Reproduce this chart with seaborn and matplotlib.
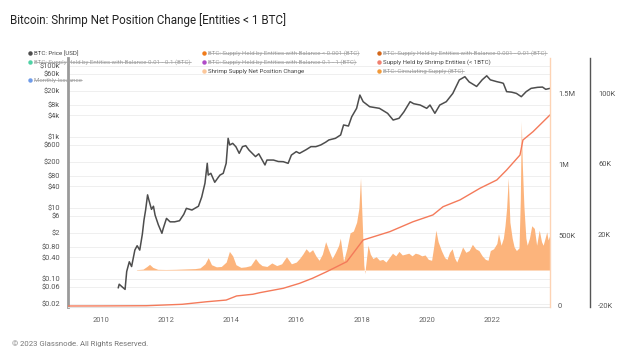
import matplotlib
matplotlib.use("Agg")
import matplotlib.pyplot as plt
from matplotlib.lines import Line2D
import seaborn as sns

# BTC price (decimal year, USD)
price_years = [2010.54, 2010.57, 2010.65, 2010.75, 2010.80, 2010.88, 2010.95, 2011.05, 2011.12, 2011.20,
               2011.28, 2011.33, 2011.38, 2011.44, 2011.48, 2011.56, 2011.62, 2011.67, 2011.77, 2011.88,
               2011.92, 2012.02, 2012.13, 2012.27, 2012.42, 2012.55, 2012.63, 2012.80, 2013.00, 2013.10,
               2013.20, 2013.27, 2013.30, 2013.38, 2013.50, 2013.60, 2013.66, 2013.76, 2013.85, 2013.91,
               2013.96, 2014.05, 2014.15, 2014.25, 2014.35, 2014.45, 2014.55, 2014.65, 2014.75, 2014.85,
               2015.04, 2015.10, 2015.30, 2015.45, 2015.60, 2015.75, 2015.85, 2016.00, 2016.10, 2016.30,
               2016.45, 2016.60, 2016.75, 2016.90, 2017.00, 2017.20, 2017.36, 2017.45, 2017.60, 2017.70,
               2017.85, 2017.95, 2018.05, 2018.25, 2018.55, 2018.80, 2018.97, 2019.15, 2019.30, 2019.49,
               2019.60, 2019.80, 2020.00, 2020.10, 2020.25, 2020.40, 2020.60, 2020.80, 2021.00, 2021.17,
               2021.30, 2021.53, 2021.70, 2021.84, 2021.95, 2022.15, 2022.30, 2022.35, 2022.45, 2022.60,
               2022.75, 2022.90, 2023.05, 2023.20, 2023.40, 2023.55, 2023.65, 2023.78]
price_usd = [0.055, 0.07, 0.06, 0.05, 0.16, 0.30, 0.22, 0.64, 0.85, 0.64,
             1.8, 4.5, 8.6, 23, 16.5, 9, 11, 6.2, 3.3, 1.9,
             2.6, 5.0, 4.0, 4.0, 4.3, 6.5, 9.6, 8.6, 11, 20,
             49, 178, 83, 93, 52, 70, 83, 93, 178, 900,
             585, 650, 520, 340, 525, 560, 420, 340, 275, 330,
             160, 220, 220, 200, 198, 178, 304, 380, 340, 430,
             525, 525, 585, 700, 810, 900, 1120, 2140, 2000, 3650,
             6300, 14900, 9700, 7000, 6300, 4560, 2950, 3300, 5000, 9700,
             8500, 7800, 6300, 7800, 4560, 7800, 9700, 16600, 39800, 49000,
             35000, 26000, 40000, 52000, 40000, 35500, 33000, 31800, 18600, 18000,
             16600, 13400, 18600, 23000, 24600, 25000, 21600, 23000]

# Supply held by shrimp entities (< 1 BTC)
shrimp_years = [2009.0, 2010.0, 2011.4, 2012.5, 2013.25, 2013.85, 2014.17, 2014.67, 2014.88, 2015.6,
                2016.1, 2016.5, 2016.93, 2017.55, 2018.05, 2018.87, 2019.58, 2020.19, 2020.5, 2021.02,
                2021.63, 2022.15, 2022.45, 2022.86, 2022.95, 2023.26, 2023.78]
shrimp_supply = [0, 500, 2000, 12000, 30000, 42000, 71000, 83000, 94000, 125000,
                 160000, 196000, 242000, 313000, 466000, 525000, 595000, 643000, 701000, 749000,
                 831000, 890000, 960000, 1066000, 1172000, 1231000, 1349000]

# Shrimp supply net position change (BTC)
net_years = [2011.10, 2011.30, 2011.42, 2011.50, 2011.60, 2011.75, 2012.00, 2012.30, 2012.60, 2012.90,
             2013.05, 2013.20, 2013.30, 2013.40, 2013.55, 2013.70, 2013.85, 2013.95, 2014.05, 2014.15,
             2014.30, 2014.45, 2014.60, 2014.75, 2014.85, 2014.95, 2015.10, 2015.25, 2015.40, 2015.55,
             2015.70, 2015.85, 2016.00, 2016.10, 2016.20, 2016.30, 2016.40, 2016.50, 2016.60, 2016.70,
             2016.80, 2016.90, 2017.00, 2017.10, 2017.20, 2017.30, 2017.35, 2017.45, 2017.55, 2017.65,
             2017.75, 2017.85, 2017.92, 2017.97, 2018.02, 2018.07, 2018.10, 2018.15, 2018.20, 2018.27,
             2018.35, 2018.45, 2018.55, 2018.65, 2018.75, 2018.85, 2018.95, 2019.05, 2019.15, 2019.25,
             2019.35, 2019.45, 2019.55, 2019.65, 2019.75, 2019.85, 2019.95, 2020.05, 2020.15, 2020.22,
             2020.28, 2020.35, 2020.45, 2020.55, 2020.62, 2020.70, 2020.78, 2020.85, 2020.92, 2021.00,
             2021.10, 2021.20, 2021.30, 2021.40, 2021.50, 2021.60, 2021.70, 2021.80, 2021.88, 2021.95,
             2022.05, 2022.15, 2022.20, 2022.28, 2022.35, 2022.40, 2022.45, 2022.50, 2022.55, 2022.62,
             2022.68, 2022.75, 2022.83, 2022.87, 2022.90, 2022.93, 2022.98, 2023.04, 2023.08, 2023.15,
             2023.22, 2023.30, 2023.37, 2023.45, 2023.52, 2023.57, 2023.63, 2023.68, 2023.72, 2023.78]
net_change = [200, 500, 2000, 3200, 1500, 400, 300, 400, 600, 800,
              1200, 3500, 7000, 3000, 1800, 2000, 4500, 10500, 8000, 3000,
              1500, 1800, 2500, 6500, 4000, 2500, 2000, 4000, 2500, 3500,
              7500, 3500, 4500, 6500, 9000, 12000, 10000, 11500, 8000, 5500,
              9000, 16000, 11000, 6500, 10000, 14000, 18000, 5000, 12000, 21000,
              22000, 27000, 35000, 52000, 28000, 3000, -2000, 6000, 14000, 9000,
              6500, 7500, 5500, 6000, 4500, 7000, 9500, 8000, 10500, 8500,
              9000, 9500, 8000, 9500, 9000, 8000, 8500, 6000, 5500, 14000,
              22500, 16000, 11000, 7000, 6000, 10000, 12000, 7000, 4500, 8000,
              13000, 10000, 11000, 14500, 12000, 11000, 8000, 6000, 5500, 11000,
              12000, 15000, 20500, 14000, 18000, 25000, 35000, 52000, 27000, 18000,
              13000, 11000, 12500, 40000, 84000, 60000, 36000, 18000, 14000, 18000,
              25000, 23500, 14000, 22500, 16000, 14000, 18000, 21500, 17000, 20000]

price_ticks = [0.02, 0.06, 0.1, 0.4, 0.8, 2, 6, 10, 40, 80, 200, 600, 1000, 4000, 8000, 20000, 60000, 100000]
price_labels = ["$0.02", "$0.06", "$0.10", "$0.40", "$0.80", "$2", "$6", "$10", "$40", "$80",
                "$200", "$600", "$1k", "$4k", "$8k", "$20k", "$60k", "$100k"]
supply_ticks = [0, 500000, 1000000, 1500000]
supply_labels = ["0", "500K", "1M", "1.5M"]
net_ticks = [-20000, 20000, 60000, 100000]
net_labels = ["-20K", "20K", "60K", "100K"]
year_ticks = [2010, 2012, 2014, 2016, 2018, 2020, 2022]

# legend: (label, marker colour, still shown)
legend_cols = [
    [("BTC: Price [USD]", "#4d4d4d", True),
     ("BTC: Supply Held by Entities with Balance 0.01 - 0.1 (BTC)", "#4fd1a5", False),
     (None, None, None),
     ("Monthly Issuance", "#6f9be8", False)],
    [("BTC: Supply Held by Entities with Balance < 0.001 (BTC)", "#f07b1a", False),
     ("BTC: Supply Held by Entities with Balance 0.1 - 1 (BTC)", "#b04cc8", False),
     ("Shrimp Supply Net Position Change", "#fcc79a", True)],
    [("BTC: Supply Held by Entities with Balance 0.001 - 0.01 (BTC)", "#d4671a", False),
     ("Supply Held by Shrimp Entities (< 1BTC)", "#f08070", True),
     ("BTC: Circulating Supply (BTC)", "#f29a3a", False)],
]

sns.set_style("white")
plt.rcParams['font.family'] = ['Roboto', 'DejaVu Sans']

W, H = 640, 360
fig = plt.figure(figsize=(6.4, 3.6), dpi=100)
ax = fig.add_axes([68 / W, 1 - 307 / H, 482 / W, 249 / H])

# price (log)
sns.lineplot(x=price_years, y=price_usd, ax=ax, color="#4d4d4d", linewidth=1.1)
ax.set_yscale("log")
ax.set_ylim(0.01596, 164800)
ax.set_yticks(price_ticks)
ax.set_yticklabels(price_labels)
ax.minorticks_off()
ax.set_xlim(2009.0, 2023.78)
ax.set_xticks(year_ticks)
ax.set_xticklabels([str(y) for y in year_ticks])
ax.grid(axis="y", color="#ececec", linewidth=0.6)
ax.tick_params(axis="y", length=0, pad=5.8, labelsize=5.4, labelcolor="#555555")
ax.tick_params(axis="x", length=3, color="#e3e3e3", pad=4, labelsize=5.4, labelcolor="#666666")
for s in ["top", "right"]:
    ax.spines[s].set_visible(False)
ax.spines["left"].set_color("#9a9a9a")
ax.spines["left"].set_linewidth(2)
ax.spines["bottom"].set_color("#e3e3e3")
ax.spines["bottom"].set_linewidth(0.8)

# net position change (area)
ax_net = ax.twinx()
ax_net.fill_between(net_years, net_change, 0, color="#fcb47c", linewidth=0)
ax_net.set_ylim(-20900, 119800)
ax_net.set_yticks(net_ticks)
ax_net.set_yticklabels(net_labels)
ax_net.spines["right"].set_position(("axes", (590 - 68) / 482))
ax_net.spines["right"].set_color("#555555")
ax_net.spines["right"].set_linewidth(1.0)
for s in ["top", "left", "bottom"]:
    ax_net.spines[s].set_visible(False)
ax_net.tick_params(axis="y", length=0, pad=5.8, labelsize=5.4, labelcolor="#555555")

# shrimp supply line
ax_sh = ax.twinx()
sns.lineplot(x=shrimp_years, y=shrimp_supply, ax=ax_sh, color="#f47a5a", linewidth=1.0)
ax_sh.set_ylim(-7062, 1751000)
ax_sh.set_yticks(supply_ticks)
ax_sh.set_yticklabels(supply_labels)
ax_sh.spines["right"].set_color("#fdd3b4")
ax_sh.spines["right"].set_linewidth(1.0)
for s in ["top", "left", "bottom"]:
    ax_sh.spines[s].set_visible(False)
ax_sh.tick_params(axis="y", length=0, pad=5.8, labelsize=5.4, labelcolor="#555555")
for a in (ax, ax_net, ax_sh):
    a.set_xlabel("")
    a.set_ylabel("")

fig.text(10 / W, 1 - 20 / H, "Bitcoin: Shrimp Net Position Change [Entities < 1 BTC]",
         fontsize=8.4, color="#222222", va="center", ha="left")
fig.text(12 / W, 1 - 344 / H, "\u00a9 2023 Glassnode. All Rights Reserved.",
         fontsize=5.6, color="#777777", va="center", ha="left")

# legend
col_x = [30, 204, 379]
row_y = [53.3, 62.3, 71.3, 80.3]
struck = []
for cx, col in zip(col_x, legend_cols):
    for ry, (label, colour, shown) in zip(row_y, col):
        if label is None:
            continue
        fig.add_artist(Line2D([cx / W], [1 - ry / H], marker="o", markersize=3.2, color=colour,
                              markeredgewidth=0, transform=fig.transFigure))
        t = fig.text((cx + 4) / W, 1 - ry / H, label, fontsize=4.4, va="center", ha="left",
                     color="#444444" if shown else "#a0a0a0")
        if not shown:
            struck.append(t)

fig.canvas.draw()
renderer = fig.canvas.get_renderer()
for t in struck:
    bb = t.get_window_extent(renderer)
    ym = (bb.y0 + bb.y1) / 2 / H
    fig.add_artist(Line2D([bb.x0 / W, bb.x1 / W], [ym, ym], color="#a0a0a0", linewidth=0.5,
                          transform=fig.transFigure))

fig.savefig("out.png", dpi=100)
